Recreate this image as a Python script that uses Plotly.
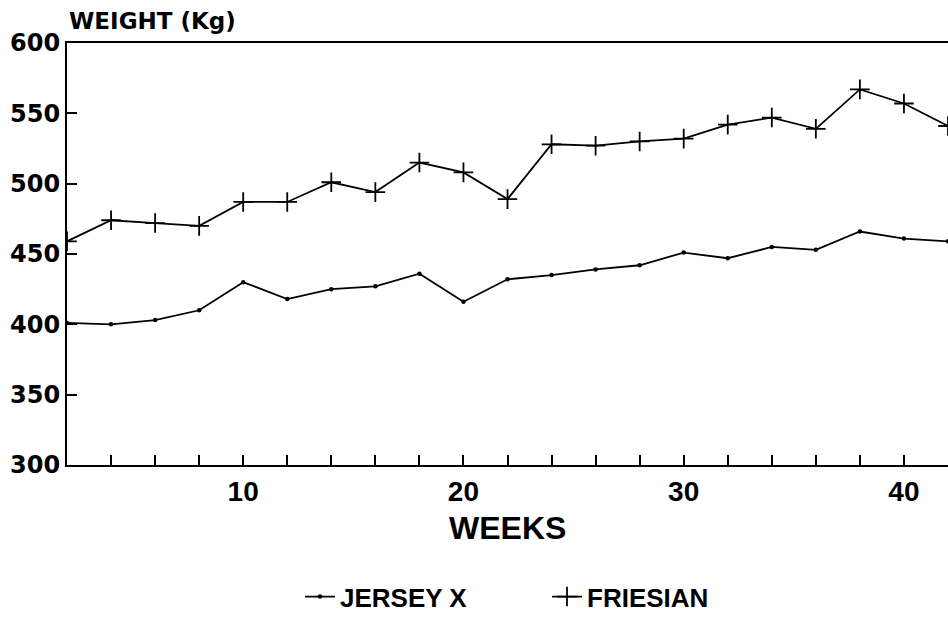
import plotly.graph_objects as go

weeks = [2, 4, 6, 8, 10, 12, 14, 16, 18, 20, 22, 24, 26, 28, 30, 32, 34, 36, 38, 40, 42]
jersey = [401, 400, 403, 410, 430, 418, 425, 427, 436, 416, 432, 435, 439, 442, 451, 447, 455, 453, 466, 461, 459]
friesian = [459, 474, 472, 470, 487, 487, 501, 494, 515, 508, 489, 528, 527, 530, 532, 542, 547, 539, 567, 557, 541]
x_ticks = [10, 20, 30, 40]
y_ticks = [300, 350, 400, 450, 500, 550, 600]

fig = go.Figure()
fig.add_trace(go.Scatter(
    x=weeks, y=jersey, name="JERSEY X", mode="lines+markers",
    line=dict(color="black", width=1.8),
    marker=dict(symbol="circle", size=4.5, color="black"),
))
fig.add_trace(go.Scatter(
    x=weeks, y=friesian, name="FRIESIAN", mode="lines+markers",
    line=dict(color="black", width=1.8),
    marker=dict(symbol="cross-thin", size=14, color="black",
                line=dict(color="black", width=1.8)),
))

fig.update_layout(
    width=948, height=617,
    margin=dict(l=67, r=0, t=43, b=152, autoexpand=False),
    paper_bgcolor="white", plot_bgcolor="white",
    showlegend=True,
    legend=dict(orientation="h", x=(300 - 67) / 881, xanchor="left", y=-0.312, yanchor="middle",
                font=dict(family="Liberation Sans", size=26, color="black", weight="bold"),
                bgcolor="rgba(0,0,0,0)", entrywidth=202, entrywidthmode="pixels"),
    xaxis=dict(
        range=[2, 42], tickvals=x_ticks, ticks="inside", ticklen=10, tickwidth=1.5,
        tickcolor="black", showgrid=False, zeroline=False, automargin=False,
        showline=True, linecolor="black", linewidth=2, mirror=True,
        tickfont=dict(family="Liberation Sans", size=28, color="black", weight="bold"),
        minor=dict(dtick=2, tick0=0, ticks="inside", ticklen=10, tickwidth=1.5, tickcolor="black", showgrid=False),
    ),
    yaxis=dict(
        range=[300, 600], tickvals=y_ticks, ticks="inside", ticklen=10, tickwidth=1.5,
        tickcolor="black", showgrid=False, zeroline=False, automargin=False,
        showline=True, linecolor="black", linewidth=2,
        tickfont=dict(family="DejaVu Sans", size=24, color="black", weight="bold"),
    ),
    annotations=[
        dict(text="WEIGHT (Kg)", xref="paper", yref="paper", x=0, y=1.053,
             xanchor="left", yanchor="middle", showarrow=False,
             font=dict(family="DejaVu Sans", size=23, color="black", weight="bold")),
        dict(text="WEEKS", xref="paper", yref="paper", x=0.4999, y=-0.149,
             xanchor="center", yanchor="middle", showarrow=False,
             font=dict(family="Liberation Sans", size=32, color="black", weight="bold")),
    ],
)

fig.write_html(
    "out.html",
    config={"displayModeBar": False},
    post_script="document.body.style.margin='0';document.body.style.overflow='hidden';",
)
